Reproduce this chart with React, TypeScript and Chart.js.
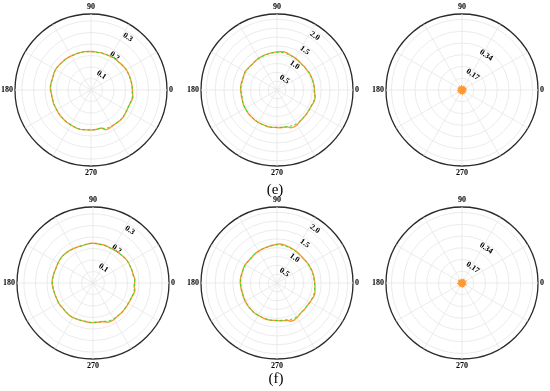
import React, { useEffect, useRef } from 'react';
import { Chart, registerables } from 'chart.js';

Chart.register(...registerables);

// Polar angles (degrees, counter-clockwise from the right), 5° resolution
const ANGLES = [
  0, 5, 10, 15, 20, 25, 30, 35, 40, 45, 50, 55,
  60, 65, 70, 75, 80, 85, 90, 95, 100, 105, 110, 115,
  120, 125, 130, 135, 140, 145, 150, 155, 160, 165, 170, 175,
  180, 185, 190, 195, 200, 205, 210, 215, 220, 225, 230, 235,
  240, 245, 250, 255, 260, 265, 270, 275, 280, 285, 290, 295,
  300, 305, 310, 315, 320, 325, 330, 335, 340, 345, 350, 355,
];
const ANGLE_TICKS = [0, 90, 180, 270];

// Radial tick labels per column
const TICKS_A = ['0.1', '0.2', '0.3'];
const TICKS_B = ['0.5', '1.0', '1.5', '2.0'];
const TICKS_C = ['0.17', '0.34'];

// (e) row
const E1_ORANGE = [
  0.180, 0.179, 0.179, 0.178, 0.178, 0.177, 0.177, 0.175, 0.173, 0.171, 0.171, 0.171,
  0.169, 0.168, 0.167, 0.168, 0.166, 0.167, 0.167, 0.168, 0.169, 0.169, 0.170, 0.170,
  0.171, 0.173, 0.174, 0.174, 0.175, 0.177, 0.178, 0.177, 0.175, 0.175, 0.176, 0.177,
  0.176, 0.173, 0.172, 0.172, 0.173, 0.172, 0.172, 0.173, 0.174, 0.174, 0.175, 0.175,
  0.175, 0.176, 0.177, 0.177, 0.175, 0.174, 0.174, 0.173, 0.172, 0.171, 0.184, 0.185,
  0.182, 0.181, 0.182, 0.183, 0.183, 0.181, 0.179, 0.178, 0.179, 0.182, 0.185, 0.181,
];
const E1_GREEN = [
  0.179, 0.179, 0.178, 0.178, 0.177, 0.177, 0.176, 0.175, 0.173, 0.171, 0.170, 0.171,
  0.169, 0.167, 0.167, 0.167, 0.166, 0.166, 0.167, 0.167, 0.168, 0.169, 0.169, 0.170,
  0.171, 0.172, 0.173, 0.174, 0.175, 0.176, 0.177, 0.177, 0.175, 0.174, 0.175, 0.176,
  0.175, 0.173, 0.172, 0.171, 0.172, 0.172, 0.172, 0.173, 0.173, 0.174, 0.174, 0.175,
  0.175, 0.176, 0.177, 0.177, 0.175, 0.174, 0.173, 0.173, 0.172, 0.171, 0.178, 0.180,
  0.180, 0.180, 0.181, 0.182, 0.182, 0.180, 0.179, 0.178, 0.178, 0.180, 0.182, 0.180,
];
const E2_ORANGE = [
  1.06, 1.06, 1.05, 1.05, 1.04, 1.04, 1.03, 1.02, 1.02, 1.01, 1.02, 1.03,
  1.04, 1.05, 1.06, 1.09, 1.10, 1.09, 1.08, 1.07, 1.06, 1.05, 1.05, 1.04,
  1.04, 1.03, 1.02, 1.01, 1.02, 1.03, 1.04, 1.03, 1.02, 1.02, 1.03, 1.03,
  1.03, 1.02, 1.02, 1.02, 1.03, 1.04, 1.04, 1.04, 1.05, 1.05, 1.05, 1.06,
  1.06, 1.06, 1.06, 1.07, 1.07, 1.06, 1.06, 1.07, 1.07, 1.08, 1.14, 1.15,
  1.14, 1.11, 1.09, 1.08, 1.08, 1.07, 1.07, 1.07, 1.09, 1.10, 1.10, 1.07,
];
const E2_GREEN = [
  1.05, 1.05, 1.05, 1.04, 1.04, 1.03, 1.03, 1.02, 1.01, 1.01, 1.02, 1.02,
  1.03, 1.04, 1.05, 1.06, 1.07, 1.07, 1.07, 1.06, 1.06, 1.05, 1.04, 1.04,
  1.03, 1.03, 1.02, 1.01, 1.01, 1.02, 1.03, 1.03, 1.02, 1.02, 1.02, 1.03,
  1.02, 1.02, 1.01, 1.02, 1.03, 1.03, 1.04, 1.04, 1.04, 1.05, 1.05, 1.05,
  1.06, 1.06, 1.06, 1.06, 1.06, 1.06, 1.06, 1.06, 1.07, 1.07, 1.09, 1.10,
  1.10, 1.09, 1.08, 1.08, 1.07, 1.07, 1.07, 1.07, 1.08, 1.09, 1.09, 1.06,
];
const E3_ORANGE = [
  0.022, 0.025, 0.019, 0.016, 0.021, 0.028, 0.024, 0.018, 0.015, 0.020, 0.026, 0.023,
  0.017, 0.019, 0.024, 0.021, 0.016, 0.018, 0.022, 0.027, 0.023, 0.017, 0.015, 0.019,
  0.024, 0.020, 0.016, 0.021, 0.026, 0.022, 0.018, 0.020, 0.025, 0.021, 0.017, 0.019,
  0.023, 0.027, 0.022, 0.016, 0.018, 0.024, 0.020, 0.017, 0.021, 0.026, 0.023, 0.018,
  0.016, 0.020, 0.025, 0.022, 0.017, 0.019, 0.024, 0.028, 0.021, 0.016, 0.018, 0.023,
  0.020, 0.017, 0.022, 0.027, 0.024, 0.018, 0.016, 0.021, 0.025, 0.020, 0.018, 0.023,
];

// (f) row
const F1_ORANGE = [
  0.181, 0.183, 0.179, 0.178, 0.178, 0.177, 0.178, 0.177, 0.175, 0.173, 0.172, 0.171,
  0.170, 0.170, 0.171, 0.172, 0.171, 0.172, 0.173, 0.172, 0.170, 0.169, 0.170, 0.171,
  0.172, 0.174, 0.175, 0.176, 0.177, 0.176, 0.175, 0.174, 0.173, 0.175, 0.176, 0.177,
  0.178, 0.176, 0.174, 0.173, 0.172, 0.172, 0.173, 0.172, 0.171, 0.172, 0.173, 0.174,
  0.174, 0.172, 0.171, 0.170, 0.171, 0.172, 0.172, 0.171, 0.172, 0.173, 0.182, 0.184,
  0.183, 0.180, 0.179, 0.179, 0.178, 0.178, 0.177, 0.178, 0.179, 0.183, 0.185, 0.180,
];
const F1_GREEN = [
  0.180, 0.181, 0.178, 0.178, 0.177, 0.177, 0.177, 0.176, 0.175, 0.172, 0.171, 0.171,
  0.170, 0.169, 0.170, 0.171, 0.171, 0.171, 0.172, 0.172, 0.170, 0.169, 0.169, 0.170,
  0.171, 0.173, 0.174, 0.175, 0.176, 0.176, 0.175, 0.174, 0.173, 0.174, 0.175, 0.176,
  0.177, 0.175, 0.174, 0.173, 0.172, 0.171, 0.172, 0.172, 0.171, 0.171, 0.172, 0.173,
  0.173, 0.172, 0.171, 0.170, 0.170, 0.171, 0.171, 0.171, 0.171, 0.172, 0.177, 0.179,
  0.179, 0.178, 0.178, 0.178, 0.177, 0.177, 0.177, 0.177, 0.178, 0.181, 0.182, 0.179,
];
const F2_ORANGE = [
  1.07, 1.06, 1.06, 1.05, 1.05, 1.04, 1.04, 1.03, 1.02, 1.02, 1.03, 1.04,
  1.05, 1.06, 1.07, 1.08, 1.10, 1.11, 1.10, 1.08, 1.07, 1.06, 1.05, 1.05,
  1.04, 1.04, 1.03, 1.02, 1.02, 1.03, 1.04, 1.04, 1.03, 1.03, 1.04, 1.04,
  1.04, 1.03, 1.03, 1.02, 1.03, 1.03, 1.04, 1.04, 1.05, 1.05, 1.06, 1.06,
  1.06, 1.06, 1.07, 1.07, 1.07, 1.06, 1.06, 1.07, 1.08, 1.09, 1.15, 1.16,
  1.13, 1.10, 1.08, 1.08, 1.07, 1.07, 1.08, 1.09, 1.11, 1.11, 1.09, 1.08,
];
const F2_GREEN = [
  1.06, 1.05, 1.05, 1.05, 1.04, 1.04, 1.03, 1.03, 1.02, 1.02, 1.02, 1.03,
  1.04, 1.05, 1.06, 1.07, 1.08, 1.08, 1.08, 1.07, 1.06, 1.05, 1.05, 1.04,
  1.04, 1.03, 1.03, 1.02, 1.02, 1.02, 1.03, 1.03, 1.03, 1.03, 1.03, 1.04,
  1.03, 1.03, 1.02, 1.02, 1.02, 1.03, 1.03, 1.04, 1.04, 1.05, 1.05, 1.06,
  1.06, 1.06, 1.06, 1.06, 1.06, 1.06, 1.06, 1.06, 1.07, 1.08, 1.10, 1.11,
  1.10, 1.09, 1.08, 1.07, 1.07, 1.07, 1.07, 1.08, 1.09, 1.09, 1.08, 1.07,
];
const F3_ORANGE = [
  0.024, 0.021, 0.017, 0.019, 0.025, 0.029, 0.023, 0.018, 0.016, 0.021, 0.024, 0.020,
  0.017, 0.020, 0.025, 0.022, 0.018, 0.016, 0.021, 0.026, 0.024, 0.019, 0.016, 0.020,
  0.023, 0.019, 0.017, 0.022, 0.027, 0.023, 0.019, 0.021, 0.024, 0.020, 0.018, 0.022,
  0.025, 0.028, 0.021, 0.017, 0.019, 0.023, 0.021, 0.018, 0.020, 0.025, 0.022, 0.019,
  0.017, 0.021, 0.024, 0.021, 0.018, 0.020, 0.023, 0.027, 0.022, 0.017, 0.019, 0.024,
  0.021, 0.018, 0.023, 0.026, 0.023, 0.019, 0.017, 0.022, 0.026, 0.021, 0.019, 0.022,
];

const ORANGE = '#ff9933';
const GREEN = '#22dd22';
const GRID = '#e6e6e6';
const OUTER = '#2a2a2a';
const FONT = 'Liberation Serif';

// Chart.js radar runs clockwise from the top; index 0 sits where the radial tick labels go.
const START = 35;
const STEP = 5;
const ORDER = ANGLES.map((_, i) => {
  const theta = (((90 - START - STEP * i) % 360) + 360) % 360;
  return ANGLES.indexOf(theta);
});

const CW = 200;
const CH = 200;
const TARGET_RADIUS = 76;

type PanelProps = {
  cx: number;
  cy: number;
  max: number;
  step: number;
  ticks: string[];
  orange: number[];
  green?: number[];
  filled?: boolean;
};

function PolarPanel({ cx, cy, max, step, ticks, orange, green, filled }: PanelProps) {
  const ref = useRef<HTMLCanvasElement>(null);
  useEffect(() => {
    const canvas = ref.current as HTMLCanvasElement;
    const labels = ORDER.map((j) => ANGLES[j]);
    const datasets: any[] = [];
    if (green) {
      datasets.push({
        data: ORDER.map((j) => green[j]),
        borderColor: GREEN,
        borderWidth: 1,
        borderDash: [2.5, 2.5],
        pointRadius: 0,
        fill: false,
        tension: 0,
      });
    }
    datasets.push({
      data: ORDER.map((j) => orange[j]),
      borderColor: ORANGE,
      backgroundColor: filled ? ORANGE : 'transparent',
      borderWidth: 1.4,
      pointRadius: 0,
      fill: !!filled,
      tension: 0,
    });
    const isOuter = (c: any) => c.tick && Math.abs(c.tick.value - max) < 1e-9;
    const chart = new Chart(canvas, {
      type: 'radar',
      data: { labels, datasets },
      options: {
        animation: false,
        responsive: false,
        layout: { padding: 0 },
        plugins: { legend: { display: false }, tooltip: { enabled: false } },
        scales: {
          r: {
            min: 0,
            max,
            startAngle: START,
            grid: {
              circular: true,
              color: (c: any) => (isOuter(c) ? OUTER : GRID),
              lineWidth: (c: any) => (isOuter(c) ? 1.3 : 0.8),
            },
            angleLines: {
              display: true,
              color: GRID,
              lineWidth: (c: any) => (labels[c.index] % 30 === 0 ? 0.8 : 0),
            },
            pointLabels: {
              display: true,
              padding: -2,
              color: '#000',
              font: { family: FONT, size: 8, weight: 'bold' },
              callback: (v: any) => (ANGLE_TICKS.includes(Number(v)) ? String(v) : ''),
            },
            ticks: {
              stepSize: step,
              showLabelBackdrop: false,
              backdropPadding: 0,
              color: '#000',
              font: { family: FONT, size: 8, weight: 'bold', lineHeight: 0.6 },
              callback: (v: any) => {
                const t = ticks.find((s) => Math.abs(parseFloat(s) - Number(v)) < 1e-6);
                // an empty first line draws the label slightly inside its circle
                return t === undefined ? '' : ['', t];
              },
            },
          },
        },
      } as any,
    });
    // tune the padding so that the outer circle has the wanted radius
    for (let k = 0; k < 3; k++) {
      const r: any = chart.scales.r;
      const diff = r.drawingArea - TARGET_RADIUS;
      if (Math.abs(diff) < 0.5) break;
      const pad = ((chart.options.layout as any).padding || 0) + diff;
      (chart.options.layout as any).padding = pad;
      chart.update();
    }
    const r: any = chart.scales.r;
    canvas.style.left = `${cx - r.xCenter}px`;
    canvas.style.top = `${cy - r.yCenter}px`;
    return () => chart.destroy();
  }, []);
  return (
    <canvas
      ref={ref}
      width={CW}
      height={CH}
      style={{ position: 'absolute', left: cx - CW / 2, top: cy - CH / 2, width: CW, height: CH }}
    />
  );
}

const COLS = [91, 277, 462];
const ROWS = [90, 283];

const captionStyle: React.CSSProperties = {
  position: 'absolute',
  width: 60,
  textAlign: 'center',
  fontFamily: FONT,
  fontSize: 15,
  lineHeight: '17px',
  color: '#000',
};

export default function App() {
  return (
    <div
      style={{
        position: 'fixed',
        left: 0,
        top: 0,
        width: 550,
        height: 391,
        background: '#fff',
        overflow: 'hidden',
      }}
    >
      <PolarPanel cx={COLS[0]} cy={ROWS[0]} max={0.33} step={0.05} ticks={TICKS_A} orange={E1_ORANGE} green={E1_GREEN} />
      <PolarPanel cx={COLS[1]} cy={ROWS[0]} max={2.15} step={0.25} ticks={TICKS_B} orange={E2_ORANGE} green={E2_GREEN} />
      <PolarPanel cx={COLS[2]} cy={ROWS[0]} max={0.55} step={0.085} ticks={TICKS_C} orange={E3_ORANGE} filled />
      <PolarPanel cx={COLS[0] + 2} cy={ROWS[1]} max={0.33} step={0.05} ticks={TICKS_A} orange={F1_ORANGE} green={F1_GREEN} />
      <PolarPanel cx={COLS[1]} cy={ROWS[1]} max={2.15} step={0.25} ticks={TICKS_B} orange={F2_ORANGE} green={F2_GREEN} />
      <PolarPanel cx={COLS[2]} cy={ROWS[1]} max={0.55} step={0.085} ticks={TICKS_C} orange={F3_ORANGE} filled />
      <div style={{ ...captionStyle, left: 245, top: 181 }}>(e)</div>
      <div style={{ ...captionStyle, left: 246, top: 370 }}>(f)</div>
    </div>
  );
}
